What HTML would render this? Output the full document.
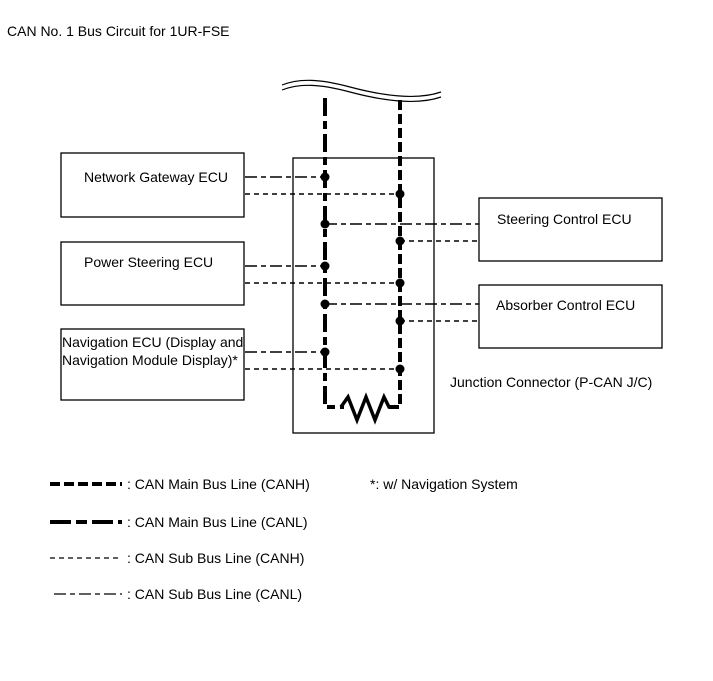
<!DOCTYPE html>
<html><head><style>
html,body{margin:0;padding:0;background:#fff;}
svg{display:block;}
text{font-family:"Liberation Sans",Arial,sans-serif;font-size:14px;fill:#000;}
</style></head><body>
<svg width="713" height="681" viewBox="0 0 713 681" xmlns="http://www.w3.org/2000/svg">
<text x="7" y="36">CAN No. 1 Bus Circuit for 1UR-FSE</text>
<path d="M282,85 C300,78 320,79 350,87 S415,101 441,92" fill="none" stroke="#000" stroke-width="1.2"/>
<path d="M282,90 C300,83 320,84 350,92 S415,106 441,97" fill="none" stroke="#000" stroke-width="1.2"/>
<rect x="293" y="158" width="141" height="275" fill="none" stroke="#000" stroke-width="1.3"/>
<g fill="none" stroke="#000" stroke-width="1.3">
<rect x="61" y="153" width="183" height="64"/>
<rect x="61" y="242" width="183" height="63"/>
<rect x="61" y="329" width="183" height="71"/>
<rect x="479" y="198" width="183" height="63"/>
<rect x="479" y="285" width="183" height="63"/>
</g>
<text x="84" y="182">Network Gateway ECU</text>
<text x="84" y="267">Power Steering ECU</text>
<text x="62" y="347">Navigation ECU (Display and</text>
<text x="62" y="365">Navigation Module Display)*</text>
<text x="497" y="224">Steering Control ECU</text>
<text x="496" y="310">Absorber Control ECU</text>
<text x="450" y="387">Junction Connector (P-CAN J/C)</text>
<text x="370" y="489">*: w/ Navigation System</text>
<g stroke="#000" stroke-width="1.4" stroke-dasharray="12,4,5,4" fill="none">
<path d="M245,177 H325"/>
<path d="M245,266 H325"/>
<path d="M245,352 H325"/>
<path d="M325,224 H479"/>
<path d="M325,304 H479"/>
</g>
<g stroke="#000" stroke-width="1.4" stroke-dasharray="5,4" fill="none">
<path d="M245,194 H400"/>
<path d="M245,283 H400"/>
<path d="M245,369 H400"/>
<path d="M400,241 H479"/>
<path d="M400,321 H479"/>
</g>
<path d="M325,98 V407 H344" fill="none" stroke="#000" stroke-width="4" stroke-dasharray="18,5,8,5"/>
<path d="M400,100 V407 H386" fill="none" stroke="#000" stroke-width="4" stroke-dasharray="10,4"/>
<path d="M341,407 L348,397 L357,420 L366,397 L375,420 L384,397 L389,407 H398" fill="none" stroke="#000" stroke-width="3.5"/>
<g fill="#000">
<circle cx="325" cy="177" r="4.5"/>
<circle cx="400" cy="194" r="4.5"/>
<circle cx="325" cy="224" r="4.5"/>
<circle cx="400" cy="241" r="4.5"/>
<circle cx="325" cy="266" r="4.5"/>
<circle cx="400" cy="283" r="4.5"/>
<circle cx="325" cy="304" r="4.5"/>
<circle cx="400" cy="321" r="4.5"/>
<circle cx="325" cy="352" r="4.5"/>
<circle cx="400" cy="369" r="4.5"/>
</g>
<path d="M50,484 H122" stroke="#000" stroke-width="4" stroke-dasharray="10,4" fill="none"/>
<path d="M50,522 H122" stroke="#000" stroke-width="4" stroke-dasharray="21,5,11,5" fill="none"/>
<path d="M50,558 H122" stroke="#000" stroke-width="1.3" stroke-dasharray="5,4" fill="none"/>
<path d="M54,594 H122" stroke="#000" stroke-width="1.3" stroke-dasharray="12,4,5,4" fill="none"/>
<text x="127" y="489">: CAN Main Bus Line (CANH)</text>
<text x="127" y="527">: CAN Main Bus Line (CANL)</text>
<text x="127" y="563">: CAN Sub Bus Line (CANH)</text>
<text x="127" y="599">: CAN Sub Bus Line (CANL)</text>
</svg>
</body></html>
